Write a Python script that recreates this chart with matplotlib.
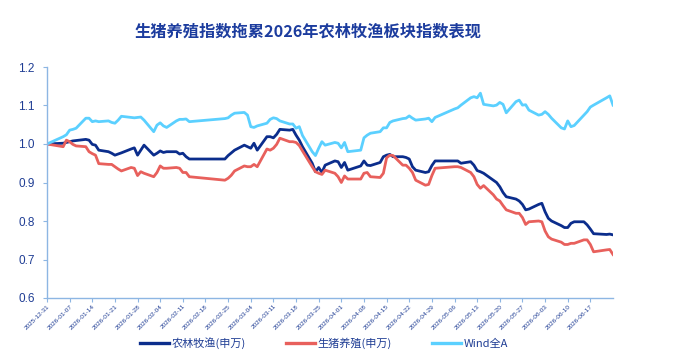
import matplotlib
matplotlib.use("Agg")
import matplotlib.pyplot as plt
import matplotlib.dates as mdates
import pandas as pd
import numpy as np

plt.rcParams['font.family'] = ['Noto Sans CJK SC', 'DejaVu Sans']

title = "生猪养殖指数拖累2026年农林牧渔板块指数表现"
series_names = ["农林牧渔(申万)", "生猪养殖(申万)", "Wind全A"]

holidays = ["2026-01-01", "2026-01-02", "2026-02-16", "2026-02-17", "2026-02-18",
            "2026-02-19", "2026-02-20", "2026-02-23", "2026-04-06", "2026-05-01",
            "2026-05-04", "2026-05-05", "2026-06-19"]
dates = pd.bdate_range("2025-12-31", "2026-06-24")
dates = dates[~dates.isin(pd.to_datetime(holidays))]

nlmy = [1.000,
        1.002, 1.004, 1.006, 1.008, 1.009, 1.012, 1.010, 0.999, 0.997, 0.984,
        0.980, 0.976, 0.971, 0.974, 0.977, 0.987, 0.990, 0.971, 0.984, 0.997,
        0.971, 0.976, 0.982, 0.978, 0.980, 0.980, 0.974, 0.976, 0.967, 0.961,
        0.961, 0.970, 0.977, 0.984,
        0.997, 0.993, 0.989, 1.002, 0.984, 1.019, 1.019, 1.016, 1.025, 1.038,
        1.036, 1.038, 1.023, 1.010, 0.993, 0.950, 0.928, 0.939, 0.926, 0.945,
        0.956, 0.954,
        0.939, 0.952, 0.932, 0.943, 0.956, 0.945, 0.944, 0.952, 0.967, 0.971,
        0.973, 0.967, 0.967, 0.965, 0.961, 0.941, 0.932, 0.926, 0.928, 0.944,
        0.956,
        0.956, 0.956, 0.950, 0.954, 0.945, 0.931, 0.928, 0.924, 0.906, 0.900,
        0.889, 0.874, 0.863, 0.857, 0.852, 0.843, 0.829, 0.831,
        0.843, 0.846, 0.824, 0.807, 0.800, 0.788, 0.783, 0.783, 0.794, 0.798,
        0.798, 0.790, 0.779, 0.767, 0.765, 0.766, 0.764]

szyz = [1.000,
        0.993, 1.010, 1.006, 0.999, 0.995, 0.993, 0.980, 0.975, 0.971, 0.949,
        0.947, 0.947, 0.941, 0.935, 0.930, 0.939, 0.937, 0.918, 0.928, 0.924,
        0.915, 0.926, 0.943, 0.937, 0.937, 0.939, 0.937, 0.926, 0.926, 0.915,
        0.906, 0.911, 0.919, 0.930,
        0.943, 0.941, 0.941, 0.947, 0.941, 0.987, 0.984, 0.989, 0.999, 1.015,
        1.006, 1.006, 1.004, 0.996, 0.982, 0.941, 0.928, 0.924, 0.921, 0.932,
        0.924, 0.915,
        0.900, 0.917, 0.909, 0.909, 0.924, 0.926, 0.915, 0.913, 0.924, 0.964,
        0.971, 0.970, 0.945, 0.945, 0.937, 0.926, 0.906, 0.893, 0.895, 0.918,
        0.937,
        0.941, 0.941, 0.939, 0.926, 0.915, 0.895, 0.885, 0.892, 0.868, 0.857,
        0.852, 0.840, 0.829, 0.820, 0.820, 0.809, 0.791, 0.798,
        0.800, 0.798, 0.774, 0.759, 0.753, 0.745, 0.739, 0.739, 0.742, 0.742,
        0.751, 0.751, 0.739, 0.720, 0.725, 0.726, 0.713]

winda = [1.000,
         1.019, 1.024, 1.036, 1.038, 1.041, 1.067, 1.067, 1.058, 1.060, 1.058,
         1.060, 1.056, 1.054, 1.062, 1.072, 1.069, 1.068, 1.069, 1.070, 1.062,
         1.032, 1.049, 1.055, 1.047, 1.043, 1.060, 1.064, 1.064, 1.065, 1.058,
         1.066, 1.068, 1.075, 1.080,
         1.082, 1.075, 1.045, 1.043, 1.047, 1.054, 1.064, 1.068, 1.066, 1.060,
         1.052, 1.052, 1.041, 1.045, 1.022, 0.980, 0.970, 0.989, 1.006, 0.997,
         1.004, 1.002,
         0.990, 1.004, 0.980, 0.984, 1.016, 1.023, 1.028, 1.032, 1.042, 1.042,
         1.056, 1.060, 1.066, 1.067, 1.073, 1.067, 1.062, 1.065, 1.067, 1.058,
         1.069,
         1.091, 1.094, 1.101, 1.120, 1.123, 1.120, 1.132, 1.103, 1.099, 1.101,
         1.108, 1.103, 1.081, 1.110, 1.114, 1.101, 1.102, 1.088,
         1.075, 1.077, 1.084, 1.077, 1.067, 1.042, 1.039, 1.060, 1.045, 1.048,
         1.075, 1.084, 1.096, 1.101, 1.120, 1.125, 1.101]

y_ticks = [0.6, 0.7, 0.8, 0.9, 1.0, 1.1, 1.2]
x_ticks = pd.date_range("2025-12-31", "2026-06-17", freq="7D")

colors = ["#0b2d8c", "#e8605c", "#5bd0ff"]
spine_c = "#8db6e3"
text_c = "#1f3d94"

fig = plt.figure(figsize=(6.74, 3.64), dpi=100)
ax = fig.add_axes([47/674, 1-298/364, (613-47)/674, (298-67)/364])

for vals, c, name in zip([nlmy, szyz, winda], colors, series_names):
    ax.plot(dates, vals, color=c, lw=2.0, label=name, solid_joinstyle='round')

ax.set_ylim(0.6, 1.2)
ax.set_yticks(y_ticks)
ax.set_yticklabels([f"{v:.1f}" for v in y_ticks], fontsize=8.5, color=text_c,
                   fontfamily='Liberation Sans')
ax.set_xlim(pd.Timestamp("2025-12-31"), pd.Timestamp("2026-06-24"))
ax.set_xticks(x_ticks)
ax.set_xticklabels([d.strftime("%Y-%m-%d") for d in x_ticks], rotation=45,
                   ha='right', rotation_mode='anchor', fontsize=4.6, color=text_c,
                   fontfamily='Liberation Sans')
for s in ['top', 'right']:
    ax.spines[s].set_visible(False)
for s in ['left', 'bottom']:
    ax.spines[s].set_color(spine_c)
    ax.spines[s].set_linewidth(1.0)
ax.tick_params(axis='y', length=3, color=spine_c, pad=6)
ax.tick_params(axis='x', length=3, color=spine_c, pad=1)

fig.text(308/674, 1-32/364, title, ha='center', va='center', fontsize=11.7,
         fontweight='bold', color="#1c3c9e")

leg = fig.legend(loc='center', bbox_to_anchor=(324/674, 1-343/364), ncol=3,
                 frameon=False, fontsize=8, handlelength=2.6, handletextpad=0.25,
                 columnspacing=3.6, labelcolor=text_c)
for h in leg.get_lines():
    h.set_linewidth(2.4)

fig.savefig("out.png", dpi=100)
